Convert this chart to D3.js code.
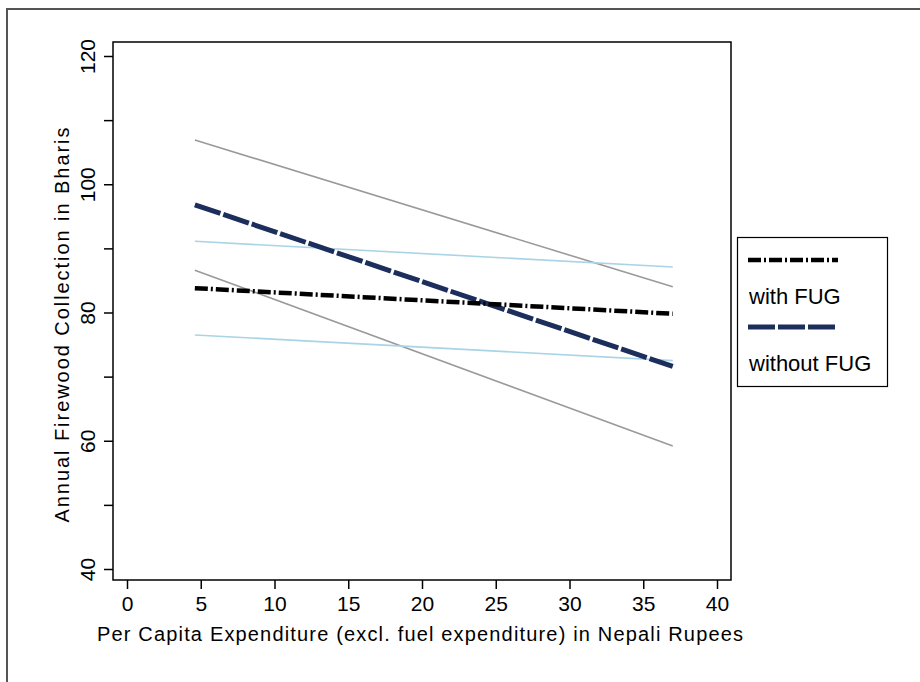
<!DOCTYPE html>
<html>
<head>
<meta charset="utf-8">
<script src="https://cdn.jsdelivr.net/npm/d3@7"></script>
<style>
  html, body { margin: 0; padding: 0; background: #fff; }
  svg { display: block; }
  text { font-family: "Liberation Sans", Arial, sans-serif; fill: #000; }
</style>
</head>
<body>
<svg id="chart" width="920" height="682"></svg>
<script>
// Fitted firewood collection over per-capita expenditure, with and without FUG
const xEnds = [4.6, 37];                 // expenditure range covered by the fits
const withFUG      = [83.8, 79.8];
const withFUGHigh  = [91.1, 87.1];
const withFUGLow   = [76.5, 72.5];
const withoutFUG     = [96.8, 71.6];
const withoutFUGHigh = [106.9, 84.0];
const withoutFUGLow  = [86.6, 59.2];

const xTicks = [0, 5, 10, 15, 20, 25, 30, 35, 40];
const yTicks = [40, 60, 80, 100, 120];
const yMinorTicks = [50, 70, 90, 110];
const legendLabels = ["with FUG", "without FUG"];

const svg = d3.select("#chart");

// outer frame
svg.append("path")
  .attr("d", "M7,682 V9 H920")
  .attr("fill", "none").attr("stroke", "#555").attr("stroke-width", 2);

const box = { left: 113, top: 42, right: 731, bottom: 580 };
const x = d3.scaleLinear().domain([0, 40]).range([127, 717]);
const y = d3.scaleLinear().domain([40, 120]).range([569, 56]);

// plot region frame
svg.append("rect")
  .attr("x", box.left).attr("y", box.top)
  .attr("width", box.right - box.left).attr("height", box.bottom - box.top)
  .attr("fill", "none").attr("stroke", "#000").attr("stroke-width", 1.5);

// x axis
const xAxis = svg.append("g").attr("transform", `translate(0,${box.bottom})`)
  .call(d3.axisBottom(x).tickValues(xTicks).tickSize(9).tickPadding(7));
xAxis.select(".domain").remove();
xAxis.selectAll("line").attr("stroke", "#000").attr("stroke-width", 1.5);
xAxis.selectAll("text").attr("font-size", 21)
  .attr("font-family", "Liberation Sans, Arial, sans-serif");

// y axis with rotated labels
const yAxis = svg.append("g").attr("transform", `translate(${box.left},0)`)
  .call(d3.axisLeft(y).tickValues(yTicks).tickSize(9).tickFormat(d3.format("d")));
yAxis.select(".domain").remove();
yAxis.selectAll("line").attr("stroke", "#000").attr("stroke-width", 1.5);
yAxis.selectAll("text")
  .attr("font-size", 21)
  .attr("font-family", "Liberation Sans, Arial, sans-serif")
  .attr("x", null).attr("dy", null)
  .attr("text-anchor", "middle")
  .attr("transform", "translate(-18,0) rotate(-90)");
const yMinor = svg.append("g").attr("transform", `translate(${box.left},0)`)
  .call(d3.axisLeft(y).tickValues(yMinorTicks).tickSize(9).tickFormat(""));
yMinor.select(".domain").remove();
yMinor.selectAll("line").attr("stroke", "#000").attr("stroke-width", 1.5);

// axis titles
svg.append("text")
  .attr("x", 420).attr("y", 641)
  .attr("text-anchor", "middle").attr("font-size", 20)
  .attr("textLength", 646).attr("lengthAdjust", "spacing")
  .text("Per Capita Expenditure (excl. fuel expenditure) in Nepali Rupees");
svg.append("text")
  .attr("transform", "translate(69,325) rotate(-90)")
  .attr("text-anchor", "middle").attr("font-size", 20)
  .attr("textLength", 395).attr("lengthAdjust", "spacing")
  .text("Annual Firewood Collection in Bharis");

// fitted lines
const pts = vals => xEnds.map((xv, i) => [x(xv), y(vals[i])]);
const line = d3.line();

const ciLines = [
  { vals: withoutFUGHigh, color: "#9a9a9a" },
  { vals: withoutFUGLow,  color: "#9a9a9a" },
  { vals: withFUGHigh,    color: "#a8d4e6" },
  { vals: withFUGLow,     color: "#a8d4e6" }
];
svg.selectAll("path.ci").data(ciLines).join("path")
  .attr("class", "ci")
  .attr("d", d => line(pts(d.vals)))
  .attr("fill", "none").attr("stroke", d => d.color).attr("stroke-width", 1.6);

const mainLines = [
  { vals: withoutFUG, color: "#1c2e5c", width: 5, dash: "27,3" },
  { vals: withFUG,    color: "#000",    width: 4.5, dash: "13,3,2,3" }
];
svg.selectAll("path.fit").data(mainLines).join("path")
  .attr("class", "fit")
  .attr("d", d => line(pts(d.vals)))
  .attr("fill", "none").attr("stroke", d => d.color)
  .attr("stroke-width", d => d.width).attr("stroke-dasharray", d => d.dash);

// legend
const lg = svg.append("g");
lg.append("rect").attr("x", 737.5).attr("y", 237.5).attr("width", 150).attr("height", 149)
  .attr("fill", "#fff").attr("stroke", "#000").attr("stroke-width", 1.2);
const legendStyles = [mainLines[1], mainLines[0]];
legendLabels.forEach((lab, i) => {
  const top = 260 + i * 67;
  const st = legendStyles[i];
  lg.append("line").attr("x1", 748).attr("x2", 838).attr("y1", top).attr("y2", top)
    .attr("stroke", st.color).attr("stroke-width", st.width)
    .attr("stroke-dasharray", st.dash);
  lg.append("text").attr("x", 749).attr("y", top + 44)
    .attr("font-size", 22).text(lab);
});
</script>
</body>
</html>
